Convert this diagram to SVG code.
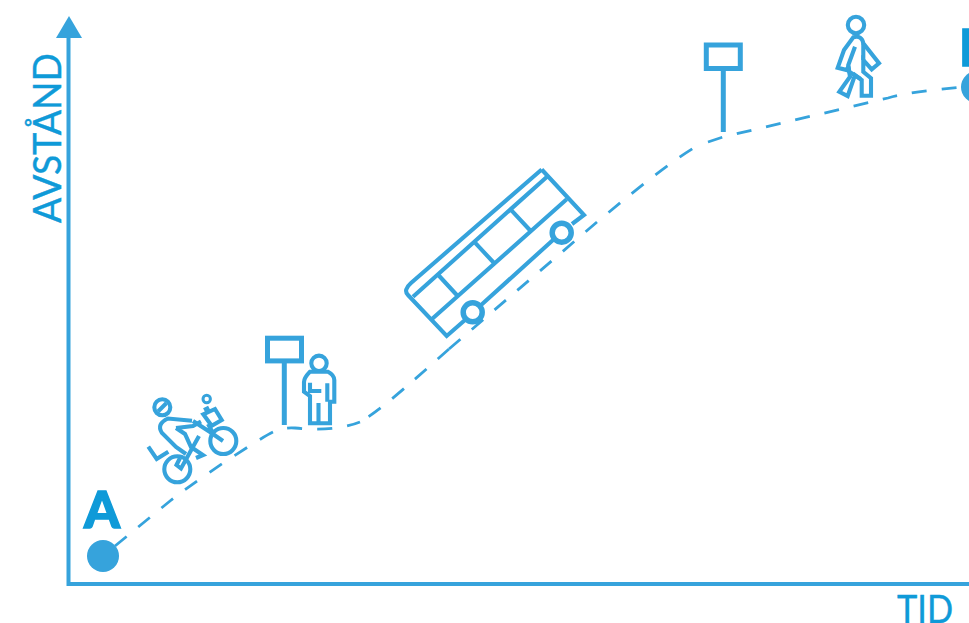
<svg xmlns="http://www.w3.org/2000/svg" width="969" height="623" viewBox="0 0 969 623">
<style>
.l{fill:none;stroke:#36a3dc;stroke-width:4.1;stroke-linejoin:miter}
.s{stroke-width:5}
.d{fill:none;stroke:#36a3dc;stroke-width:2.800;stroke-dasharray:15 15}
.t{fill:#0f9ad8;stroke:#0f9ad8;stroke-width:.4;font-family:Lato,'Liberation Sans',sans-serif;font-weight:400;font-size:39px}
.b{fill:#0f9ad8;stroke:#0f9ad8;stroke-width:1.400;font-family:Lato,'Liberation Sans',sans-serif;font-weight:900;font-size:51px}
.f{fill:#36a3dc}
</style>
<rect width="969" height="623" fill="#fff"/>
<g id="axes">
<path d="M68.500,37V584H969" fill="none" stroke="#36a3dc" stroke-width="4"/>
<polygon class="f" points="69,16 56,38 82,38"/>
</g>
<g id="connectors">
<path class="d" d="M115,546L170,501C192,484 225,461 259,440C272,432 280,427 295,428C315,430 340,430 360,422"/>
<path class="d" d="M449,349C415,379 390,402 368,417"/>
<path class="d" d="M449,349L597,222C625,199 665,165 697,146"/>
<path class="d" d="M708,142L723,137L888,98C905,93 930,90 962,87"/>
</g>
<text id="label-y" class="t" transform="translate(60.500,223) rotate(-90)" textLength="170" lengthAdjust="spacingAndGlyphs">AVSTÅND</text>
<text id="label-x" class="t" x="897" y="623" textLength="56" lengthAdjust="spacingAndGlyphs">TID</text>
<g id="node-a">
<circle class="f" cx="103" cy="556" r="16"/>
<text class="b" x="84" y="527.500" textLength="36" lengthAdjust="spacingAndGlyphs">A</text>
</g>
<g id="node-b">
<circle class="f" cx="977" cy="87" r="16"/>
<text class="b" x="959" y="65.500">B</text>
</g>
<g id="cyclist">
<circle class="l" cx="162.300" cy="407.300" r="8"/>
<path class="l" d="M158,411.500L166.500,403"/>
<circle class="l" cx="206.700" cy="399" r="3.700" style="stroke-width:3"/>
<path class="l" d="M203.300,414.300L215,409L221.700,420L211.700,425.700ZM204,410L209,407.500"/>
<circle class="l" cx="223.300" cy="441" r="13"/>
<circle class="l" cx="177.300" cy="469.300" r="13"/>
<path class="l" d="M148.300,446.700L156.700,459L168.300,451.700"/>
<path class="l" d="M192,420.700L168,418.500Q156,424 162,433L176,447L186,454"/>
<path class="l" d="M176,428L193,426L201,421.500M176,428L185,434L191,447L203,455L196,458"/>
<path class="l" d="M193,421L210,432L223,441M208,424L213,433"/>
<path class="l" d="M199,436L181,468.500L176.500,465L180,458"/>
</g>
<g id="stop-1">
<rect class="l s" x="267.500" y="338.200" width="34" height="22.700"/>
<path class="l s" d="M284.300,363V425"/>
</g>
<g id="person">
<circle class="l" cx="319" cy="363.300" r="7.700"/>
<path class="l" d="M310,371.700Q304,378 304,382V391.700L310,396V423.300H330V401.700H334.300V380Q334.300,375 328,371.700Z"/>
<path class="l" d="M310,382.700V391H321.300M318.500,403V423M327.300,383.300V401.700"/>
</g>
<g id="bus">
<path class="l" d="M541.700,169.500L411,283Q403,290 408,295L446.700,336L465,320M480,306L553,240M572,224L584,215L541.700,169.500"/>
<path class="l" d="M547,176.700L413,296.700M566.700,199.300L431.700,319.300M438.300,275L457.700,296M475,242.700L495,264M511.700,210.700L530.700,231"/>
<circle class="l" cx="561.700" cy="232.700" r="9.500" style="stroke-width:5.500"/>
<circle class="l" cx="472.700" cy="312.300" r="9.500" style="stroke-width:5.500"/>
</g>
<g id="stop-2">
<rect class="l s" x="706.300" y="45" width="34" height="23.500"/>
<path class="l s" d="M723.300,70V132"/>
</g>
<g id="walker">
<circle class="l" cx="856" cy="25" r="8.200"/>
<path class="l" d="M853.300,37.300Q862,35 863.300,43.300L879,63.300L871.700,69.300L863.300,60V71.700L871,78.300V95.700H861.700V80L855,75L847.700,96L839.300,91.700L850,76.700L848.300,66.700L846.700,70L837.700,67.700L844,50Z"/>
<path class="l" d="M863.300,43.300V60M855,46.700L848.300,65L849.300,71.700L860.700,79M855,75L851,73"/>
</g>
</svg>
